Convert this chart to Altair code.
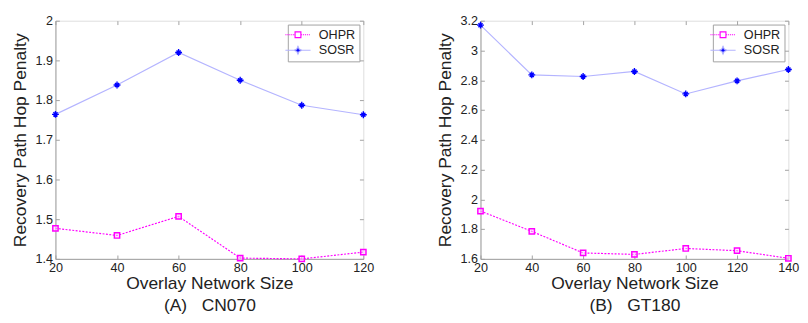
import altair as alt
import pandas as pd

series_names = ["OHPR", "SOSR"]

sizes_a = [20, 40, 60, 80, 100, 120]
ohpr_a = [1.477, 1.459, 1.507, 1.402, 1.400, 1.417]
sosr_a = [1.764, 1.838, 1.920, 1.850, 1.787, 1.763]

sizes_b = [20, 40, 60, 80, 100, 120, 140]
ohpr_b = [1.921, 1.785, 1.640, 1.630, 1.670, 1.655, 1.604]
sosr_b = [3.170, 2.836, 2.825, 2.859, 2.708, 2.796, 2.872]

xticks_a = [20, 40, 60, 80, 100, 120]
yticks_a = [1.4, 1.5, 1.6, 1.7, 1.8, 1.9, 2.0]
xticks_b = [20, 40, 60, 80, 100, 120, 140]
yticks_b = [1.6, 1.8, 2.0, 2.2, 2.4, 2.6, 2.8, 3.0, 3.2]

FONT = "Liberation Sans"
BOX = "#a0a0a0"
MAGENTA = "#ff00ff"
LIGHTBLUE = "#b4b4ff"
BLUE = "#0000ff"


def dotted_segments(a, b, step=0.5, dot=0.28):
    parts = []
    x = a
    while x < b - 1e-9:
        e = min(x + dot, b)
        parts.append(f"M{x:.3f},0H{e:.3f}")
        x += step
    return "".join(parts)


# legend glyphs (line + marker), unit scale: 1 unit = 4px (symbolSize 64)
ohpr_glyph = (dotted_segments(-3.25, -0.8) + dotted_segments(0.8, 3.25)
              + "M-0.75,-0.75H0.75V0.75H-0.75Z")
sosr_glyph = ("M-3.25,0H-0.9M0.9,0H3.25"
              "M0,-1L0.3,-0.3L1,0L0.3,0.3L0,1L-0.3,0.3L-1,0L-0.3,-0.3Z")
star_path = "M-1,0H1M0,-1V1M-0.6,-0.6L0.6,0.6M-0.6,0.6L0.6,-0.6"


def make_df(sizes, ohpr, sosr):
    rows = []
    for s, v in zip(sizes, ohpr):
        rows.append({"size": s, "value": v, "series": "OHPR"})
    for s, v in zip(sizes, sosr):
        rows.append({"size": s, "value": v, "series": "SOSR"})
    return pd.DataFrame(rows)


def panel(df, xticks, yticks, subtitle):
    xdom = [xticks[0], xticks[-1]]
    ydom = [yticks[0], yticks[-1]]
    xs = alt.Scale(domain=xdom, nice=False, zero=False)
    ys = alt.Scale(domain=ydom, nice=False, zero=False)
    tick_in = alt.ExprRef(expr="-4")

    x_axis = alt.Axis(values=xticks, format="~f", tickSize=tick_in, labelPadding=7,
                      grid=False, domainColor=BOX, tickColor=BOX, labelFontSize=13,
                      labelColor="#222222", labelFont=FONT,
                      title=["Overlay Network Size", subtitle], titleFontSize=18,
                      titleFont=FONT, titleFontWeight="normal", titleColor="#222222",
                      titleLineHeight=22, titlePadding=1, labelFlush=False)
    y_axis = alt.Axis(values=yticks, format="~f", tickSize=tick_in, labelPadding=7,
                      grid=False, domainColor=BOX, tickColor=BOX, labelFontSize=13,
                      labelColor="#222222", labelFont=FONT,
                      title="Recovery Path Hop Penalty", titleFontSize=18,
                      titleFont=FONT, titleFontWeight="normal", titleColor="#222222",
                      titlePadding=6, labelFlush=False)

    base = alt.Chart(df)
    line_o = base.transform_filter(alt.datum.series == "OHPR").mark_line(
        strokeWidth=1.2, stroke=MAGENTA, strokeDash=[2, 1.5], clip=False
    ).encode(
        x=alt.X("size:Q", scale=xs, axis=x_axis),
        y=alt.Y("value:Q", scale=ys, axis=y_axis),
    )
    line_s = base.transform_filter(alt.datum.series == "SOSR").mark_line(
        strokeWidth=1.2, stroke=LIGHTBLUE, clip=False
    ).encode(
        x=alt.X("size:Q", scale=xs, axis=None),
        y=alt.Y("value:Q", scale=ys, axis=None),
    )
    pts_o = base.transform_filter(alt.datum.series == "OHPR").mark_point(
        shape="square", size=30, filled=False, stroke=MAGENTA, strokeWidth=1.5,
        fill="#ffd0ff", fillOpacity=0.5, opacity=1, clip=False
    ).encode(
        x=alt.X("size:Q", scale=xs, axis=None),
        y=alt.Y("value:Q", scale=ys, axis=None),
    )
    pts_s = base.transform_filter(alt.datum.series == "SOSR").mark_point(
        shape=star_path, size=50, filled=False, stroke=BLUE, strokeWidth=1.4, opacity=1,
        clip=False
    ).encode(
        x=alt.X("size:Q", scale=xs, axis=None),
        y=alt.Y("value:Q", scale=ys, axis=None),
    )
    legend_layer = base.transform_filter("false").mark_point(opacity=1, strokeWidth=1.2).encode(
        x=alt.X("size:Q", scale=xs,
                axis=alt.Axis(orient="top", values=xticks, labels=False, title=None,
                              tickSize=tick_in, domain=False, tickColor=BOX, grid=False)),
        y=alt.Y("value:Q", scale=ys,
                axis=alt.Axis(orient="right", values=yticks, labels=False, title=None,
                              tickSize=tick_in, domain=False, tickColor=BOX, grid=False)),
        stroke=alt.Stroke("series:N",
                          scale=alt.Scale(domain=series_names, range=[MAGENTA, LIGHTBLUE]),
                          legend=alt.Legend(orient="top-right", title=None, offset=4,
                                            strokeColor=BOX, fillColor="white", padding=4,
                                            labelFontSize=13, labelFont=FONT,
                                            labelColor="#222222", symbolSize=64,
                                            labelOffset=15, rowPadding=2,
                                            symbolStrokeWidth=1.2)),
        fill=alt.Fill("series:N",
                      scale=alt.Scale(domain=series_names, range=["white", BLUE])),
        shape=alt.Shape("series:N",
                        scale=alt.Scale(domain=series_names, range=[ohpr_glyph, sosr_glyph])),
    )
    return alt.layer(line_o, line_s, pts_o, pts_s, legend_layer).resolve_axis(
        x="independent", y="independent"
    ).properties(width=318, height=246)


left = panel(make_df(sizes_a, ohpr_a, sosr_a), xticks_a, yticks_a, "(A)\u00a0\u00a0\u00a0CN070")
right = panel(make_df(sizes_b, ohpr_b, sosr_b), xticks_b, yticks_b, "(B)\u00a0\u00a0\u00a0GT180")

chart = alt.hconcat(left, right, spacing=63).resolve_scale(
    stroke="independent", fill="independent", shape="independent"
).resolve_legend(
    stroke="independent", fill="independent", shape="independent"
).properties(
    padding={"left": 3, "top": 1, "right": 0, "bottom": 0}
).configure_view(stroke=BOX, strokeWidth=1).configure(background="white")

chart.save("out.html", embed_options={"renderer": "svg", "actions": False})
